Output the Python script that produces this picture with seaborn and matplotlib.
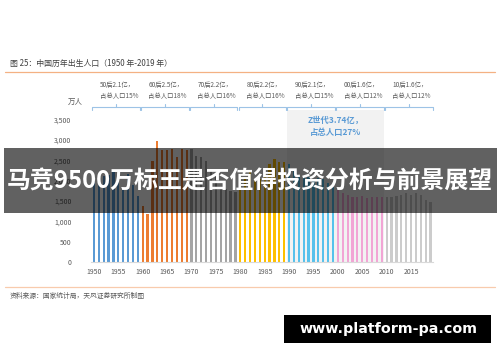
import matplotlib
matplotlib.use("Agg")
import matplotlib.pyplot as plt
from matplotlib.patches import Rectangle
import seaborn as sns
import pandas as pd

# 出生人口（万人），1950-2019
years = list(range(1950, 2020))
births = [2023, 2107, 2105, 2151, 2260, 1984, 1825, 2169, 1889, 1635,
          1389, 1189, 2491, 2975, 2750, 2750, 2790, 2580, 2790, 2750,
          2770, 2610, 2590, 2490, 2235, 2109, 1853, 1786, 1745, 1715,
          1776, 2064, 2230, 2052, 2050, 2196, 2400, 2530, 2460, 2450,
          2400, 2250, 2113, 2120, 2098, 2052, 2057, 2038, 1942, 1834,
          1771, 1702, 1647, 1599, 1593, 1617, 1585, 1595, 1608, 1591,
          1592, 1604, 1635, 1640, 1687, 1655, 1700, 1650, 1523, 1465]
decades = ["50后", "60后", "70后", "80后", "90后", "00后", "10后"]
decade_colors = ["#5b9bd5", "#ed7d31", "#a5a5a5", "#ffc000", "#56c1ec", "#f2a5d5", "#cccccc"]
decade_total = ["2.1亿", "2.5亿", "2.2亿", "2.2亿", "2.1亿", "1.6亿", "1.6亿"]
decade_share = ["15%", "18%", "16%", "16%", "15%", "12%", "12%"]
yticks = [0, 500, 1000, 1500, 2000, 2500, 3000, 3500]
xtick_years = list(range(1950, 2020, 5))

df = pd.DataFrame({"year": years, "births": births})
df["decade"] = [decades[(y - 1950) // 10] for y in years]

sns.set_style("white")
plt.rcParams['font.family'] = ['Noto Sans CJK SC', 'DejaVu Sans']

W, H = 500, 362
fig = plt.figure(figsize=(W / 100, H / 100), dpi=100)
fig.patch.set_facecolor("white")

# main axes in pixel positions
x0, x1, yb, yt = 91, 433, 262, 119.7
ax = fig.add_axes([x0 / W, 1 - yb / H, (x1 - x0) / W, (yb - yt) / H])
ax.set_facecolor("none")

# Z世代 shaded block
ax.add_patch(Rectangle((1989.5, 0), 20, 3738, facecolor="#f2f2f2", edgecolor="none",
                       zorder=0, clip_on=False))

sns.barplot(data=df, x="year", y="births", hue="decade", palette=decade_colors,
            hue_order=decades, native_scale=True, width=0.45, dodge=False,
            legend=False, ax=ax, zorder=2, saturation=1, linewidth=0)

ax.set_xlim(1949.4, 2019.5)
ax.set_ylim(0, 3500)
ax.set_yticks(yticks)
ax.set_yticklabels([f"{v:,}" for v in yticks])
ax.set_xticks(xtick_years)
ax.set_xticklabels([str(y) for y in xtick_years])
ax.set_xticks([y - 0.5 for y in xtick_years] + [2019.5], minor=True)
ax.tick_params(axis="x", which="major", length=0, pad=4, labelsize=5, labelcolor="#595959")
ax.tick_params(axis="x", which="minor", length=2.2, width=0.7, color="#d9d9d9", direction="out")
ax.tick_params(axis="y", length=0, pad=14, labelsize=5, labelcolor="#595959")
for s in ["top", "right", "left"]:
    ax.spines[s].set_visible(False)
ax.spines["bottom"].set_color("#d9d9d9")
ax.spines["bottom"].set_linewidth(0.8)
ax.set_xlabel("")
ax.set_ylabel("")

# decade brackets and labels
bc = "#9dc3e6"
for i, d in enumerate(decades):
    a = 1950 + 10 * i - 0.35
    b = 1950 + 10 * i + 9.4
    m = (a + b) / 2
    ax.plot([a, a, b, b], [3738, 3812, 3812, 3738], color=bc, lw=0.8, clip_on=False)
    ax.plot([m, m], [3812, 3886], color=bc, lw=0.8, clip_on=False)
    ax.text(m + 0.3, 4361, f"{d}{decade_total[i]}，", ha="center", va="center",
            fontsize=4.6, color="#595959", clip_on=False)
    ax.text(m + 0.6, 4083, f"占总人口{decade_share[i]}", ha="center", va="center",
            fontsize=4.6, color="#595959", clip_on=False)

ax.text(1999.6, 3492, "Z世代3.74亿，", ha="center", va="center", fontsize=6,
        fontweight="bold", color="#5b9bd5", clip_on=False)
ax.text(1999.6, 3197, "占总人口27%", ha="center", va="center", fontsize=6,
        fontweight="bold", color="#5b9bd5", clip_on=False)

# overlay axes in pixel coordinates
ov = fig.add_axes([0, 0, 1, 1], zorder=10)
ov.set_xlim(0, W)
ov.set_ylim(H, 0)
ov.axis("off")
ov.patch.set_alpha(0)

ov.text(10, 63, "图 25：中国历年出生人口（1950 年-2019 年）", ha="left", va="center",
        fontsize=5.7, color="#404040")
ov.plot([5, 495], [72.3, 72.3], color="#f4b183", lw=0.9)
ov.text(75.5, 101.5, "万人", ha="center", va="center", fontsize=5.4, color="#595959")
ov.plot([5, 495], [287, 287], color="#f8cbad", lw=0.9)
ov.text(10, 296, "资料来源：国家统计局，天风证券研究所制图", ha="left", va="center",
        fontsize=4.9, color="#595959")

# banner
ov.add_patch(Rectangle((4, 148), 493, 65, facecolor="black", alpha=0.62, edgecolor="none"))
ov.text(250, 182, "马竞9500万标王是否值得投资分析与前景展望", ha="center", va="center",
        fontsize=17.2, fontweight="bold", color="white")

# watermark box
ov.add_patch(Rectangle((284, 315), 207, 28, facecolor="black", edgecolor="none"))
ov.text(388, 329.5, "www.platform-pa.com", ha="center", va="center", fontsize=10.3,
        fontweight="bold", color="white", family="DejaVu Sans")

fig.savefig("out.png", dpi=100)
